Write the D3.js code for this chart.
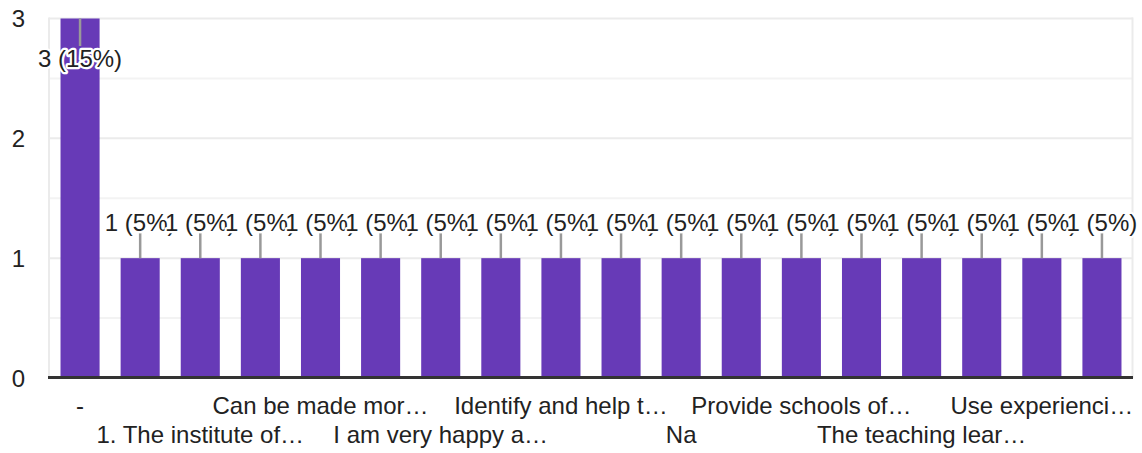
<!DOCTYPE html>
<html>
<head>
<meta charset="utf-8">
<script src="https://cdn.jsdelivr.net/npm/d3@7"></script>
<style>
  html, body { margin: 0; padding: 0; background: #fff; }
  svg { display: block; font-family: Arial, "Liberation Sans", sans-serif; }
</style>
</head>
<body>
<svg id="chart" width="1142" height="453"></svg>
<script>
// Responses (sorted), how many people gave each, and the axis text shown under each bar.
const categories = [
  "-", "1. More practical work", "1. The institute of…", "Better infrastructure",
  "Can be made mor…", "Good", "I am very happy a…", "I would like more workshops",
  "Identify and help t…", "More industry exposure", "Na", "Nil",
  "Provide schools of…", "Should include more field visits", "The teaching lear…",
  "Training should be more practical", "Use experienci…", "Very good"
];
const counts = [3, 1, 1, 1, 1, 1, 1, 1, 1, 1, 1, 1, 1, 1, 1, 1, 1, 1];
// Only every second category name fits under the axis.
const tickLabels = [
  "-", "", "1. The institute of…", "", "Can be made mor…", "", "I am very happy a…", "",
  "Identify and help t…", "", "Na", "", "Provide schools of…", "", "The teaching lear…", "",
  "Use experienci…", ""
];
const yTicks = [0, 1, 2, 3];
const yMinorTicks = [0.5, 1.5, 2.5];

const total = d3.sum(counts);
const svg = d3.select("#chart");
const plotLeft = 50, plotRight = 1132, plotTop = 18.5, plotBottom = 378;

const x = d3.scaleBand()
  .domain(d3.range(categories.length))
  .range([plotLeft, plotRight])
  .paddingInner(0.35)
  .paddingOuter(0.175);
const y = d3.scaleLinear().domain([0, 3]).range([plotBottom, plotTop]);

// minor and major horizontal gridlines
svg.append("g").selectAll("line").data(yMinorTicks).join("line")
  .attr("x1", plotLeft - 1).attr("x2", plotRight)
  .attr("y1", d => y(d)).attr("y2", d => y(d))
  .attr("stroke", "#f3f3f3").attr("stroke-width", 2);
svg.append("g").selectAll("line").data(yTicks.filter(d => d > 0)).join("line")
  .attr("x1", plotLeft - 1).attr("x2", plotRight + 1)
  .attr("y1", d => y(d)).attr("y2", d => y(d))
  .attr("stroke", "#ebebeb").attr("stroke-width", 2);
// chart area side edges
svg.append("g").selectAll("line").data([plotLeft - 1, plotRight + 0.5]).join("line")
  .attr("x1", d => d).attr("x2", d => d)
  .attr("y1", plotTop - 1).attr("y2", plotBottom)
  .attr("stroke", "#ebebeb").attr("stroke-width", 2);

// y-axis tick values
svg.append("g").selectAll("text").data(yTicks).join("text")
  .attr("x", 25).attr("y", d => y(d) + 8.5)
  .attr("text-anchor", "end")
  .attr("font-size", 24).attr("fill", "#222")
  .text(d => d);

// bars
svg.append("g").selectAll("rect").data(counts).join("rect")
  .attr("x", (d, i) => x(i))
  .attr("width", x.bandwidth())
  .attr("y", d => y(d))
  .attr("height", d => y(0) - y(d))
  .attr("fill", "#673ab7");

// baseline
svg.append("line")
  .attr("x1", plotLeft - 2).attr("x2", plotRight + 1)
  .attr("y1", y(0) - 0.5).attr("y2", y(0) - 0.5)
  .attr("stroke", "#333").attr("stroke-width", 3);

// category labels, alternating between two rows
svg.append("g").selectAll("text").data(tickLabels).join("text")
  .attr("x", (d, i) => x(i) + x.bandwidth() / 2)
  .attr("y", (d, i) => (i / 2) % 2 === 0 ? 413.5 : 443)
  .attr("text-anchor", "middle")
  .attr("font-size", 24).attr("fill", "#222")
  .text(d => d);

// value annotations: a stem from the bar top, then "n (p%)" with a white halo
const stemLen = 25;
const fitsAbove = v => y(v) - stemLen - 22 >= 0;
const ann = svg.append("g");
counts.forEach((v, i) => {
  const cx = x(i) + x.bandwidth() / 2;
  const above = fitsAbove(v);
  const y0 = y(v);
  const y1 = above ? y0 - stemLen : y0 + stemLen + 2.5;
  const g = ann.append("g");
  g.append("line")
    .attr("x1", cx).attr("x2", cx)
    .attr("y1", y0).attr("y2", y1)
    .attr("stroke", "#999").attr("stroke-width", 2.5);
  g.append("text")
    .attr("x", cx)
    .attr("y", above ? y1 - 2 : y1 + 21)
    .attr("text-anchor", "middle")
    .attr("font-size", 24).attr("fill", "#222")
    .attr("stroke", "#fff").attr("stroke-width", 4.5)
    .attr("stroke-linejoin", "round")
    .attr("paint-order", "stroke")
    .text(`${v} (${Math.round(v / total * 100)}%)`);
});
</script>
</body>
</html>
